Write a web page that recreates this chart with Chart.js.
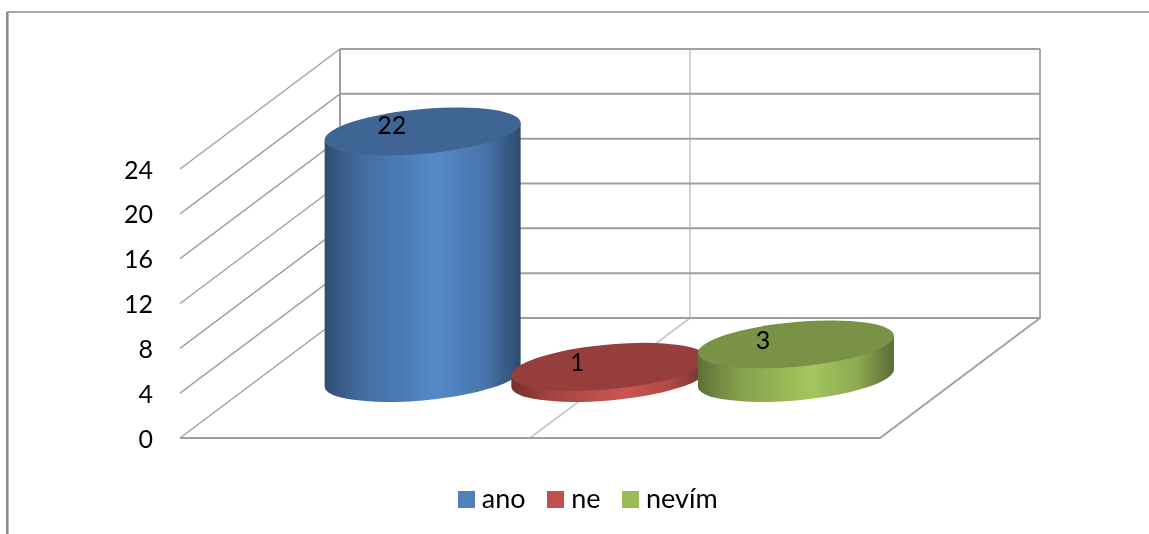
<!DOCTYPE html>
<html lang="cs">

<head>
    <meta charset="UTF-8">
    <title>Graf</title>
    <script src="https://cdn.jsdelivr.net/npm/chart.js"></script>
    <style>
        body { margin: 0; background: #fff; }
        canvas { display: block; }
    </style>
</head>

<body>
    <canvas id="myChart" width="1149" height="534"></canvas>
</body>

</html>

<script>
    // data
    const categories = ['']
    const seriesNames = ['ano', 'ne', 'nevím']
    const seriesValues = [22, 1, 3]
    const tickStep = 4
    const axisMax = 24

    const colors = [[79, 129, 189], [192, 80, 77], [155, 187, 89]]
    const labelOffsets = [[-31, -5], [-32, -4], [-33, -3]]

    const depthX = 160
    const depthY = 120
    const FONT = 'Lato'

    function shade(c, f) {
        return 'rgb(' + c.map(v => Math.min(255, Math.round(v * f))).join(',') + ')'
    }

    // legend square as a small canvas, so the gap to the text can be narrow
    function swatch(c) {
        const s = document.createElement('canvas')
        s.width = 17
        s.height = 17
        const g = s.getContext('2d')
        g.fillStyle = shade(c, 1)
        g.fillRect(0, 0, 17, 17)
        return s
    }

    // draws each bar as a slanted cylinder standing in the middle of the floor
    class CylinderController extends Chart.BarController {
        draw() {
            // chart.js walks the datasets backwards, here the first one must be at the back
            if (this.index !== 0) return
            seriesNames.forEach((n, i) => this.chart.getDatasetMeta(i).controller.drawCylinder())
        }

        drawCylinder() {
            const ctx = this.chart.ctx
            const i = this.index
            const c = colors[i]
            const bar = this.getMeta().data[0]
            const rx = bar.width / 2 * 1.05
            const ry = 22.4
            const slant = 8.5 / 98
            const cx = bar.x + depthX / 2 - 0.7
            const baseY = bar.base - depthY / 2
            const topY = bar.y - depthY / 2

            const grad = ctx.createLinearGradient(cx - rx, 0, cx + rx, 0)
            grad.addColorStop(0, shade(c, 0.6))
            grad.addColorStop(0.2, shade(c, 0.85))
            grad.addColorStop(0.58, shade(c, 1.06))
            grad.addColorStop(0.82, shade(c, 0.9))
            grad.addColorStop(1, shade(c, 0.58))

            ctx.save()
            // body: bottom half of the base ellipse, closed up to the top ellipse
            ctx.fillStyle = grad
            ctx.beginPath()
            ctx.save()
            ctx.transform(1, -slant, 0, 1, cx, baseY)
            ctx.ellipse(0, 0, rx, ry, 0, 0, Math.PI)
            ctx.restore()
            ctx.lineTo(cx - rx, topY + slant * rx)
            ctx.lineTo(cx + rx, topY - slant * rx)
            ctx.closePath()
            ctx.fill()

            // top face
            ctx.fillStyle = shade(c, 0.78)
            ctx.beginPath()
            ctx.save()
            ctx.transform(1, -slant, 0, 1, cx, topY)
            ctx.ellipse(0, 0, rx, ry, 0, 0, Math.PI * 2)
            ctx.restore()
            ctx.fill()

            // value label
            ctx.fillStyle = '#000'
            ctx.font = '25px ' + FONT
            ctx.textAlign = 'center'
            ctx.textBaseline = 'middle'
            ctx.fillText(seriesValues[i], cx + labelOffsets[i][0], topY + labelOffsets[i][1])
            ctx.restore()
        }
    }
    CylinderController.id = 'cylinder'
    CylinderController.defaults = Chart.BarController.defaults
    CylinderController.overrides = Chart.BarController.overrides
    Chart.register(CylinderController)

    function line(ctx, pts, color, width) {
        ctx.strokeStyle = color
        ctx.lineWidth = width
        ctx.beginPath()
        pts.forEach((p, n) => n ? ctx.lineTo(p[0], p[1]) : ctx.moveTo(p[0], p[1]))
        ctx.stroke()
    }

    // outer frame, walls and floor
    const frame3d = {
        id: 'frame3d',
        beforeDatasetsDraw(chart) {
            const ctx = chart.ctx
            const a = chart.chartArea
            const y = chart.scales.y
            const x = chart.scales.x
            const grey = '#9f9f9f'
            const light = '#c6c6c6'
            const bx = a.left + depthX
            const rx = a.right + depthX

            ctx.save()
            line(ctx, [[7.3, chart.height], [7.3, 12]], '#8c8c8c', 2.6)
            line(ctx, [[7, 12], [chart.width, 12]], '#8c8c8c', 1.6)

            const midBack = x.getPixelForValue(0) + depthX
            line(ctx, [[midBack, y.top - depthY], [midBack, y.bottom - depthY], [x.getPixelForValue(0), y.bottom]], light, 1.6)

            y.ticks.forEach(t => {
                const py = y.getPixelForValue(t.value)
                line(ctx, [[a.left, py], [bx, py - depthY]], grey, 1.4)
                line(ctx, [[bx, py - depthY], [rx, py - depthY]], grey, 2)
            })
            line(ctx, [[bx, y.top - depthY], [bx, y.bottom - depthY]], grey, 2)
            line(ctx, [[rx, y.top - depthY], [rx, y.bottom - depthY], [a.right, y.bottom], [a.left, y.bottom]], grey, 1.8)
            ctx.restore()
        }
    }

    // the legend sits under the whole picture, not under the plot box
    const legendPlace = {
        id: 'legendPlace',
        afterLayout(chart) {
            const l = chart.legend
            l.left += 151
            l.right += 151
            l.top += 20
            l.bottom += 20
        }
    }

    new Chart(document.getElementById('myChart'), {
        data: {
            labels: categories,
            datasets: seriesNames.map((name, i) => ({
                type: 'cylinder',
                label: name,
                data: [seriesValues[i]],
                backgroundColor: shade(colors[i], 1),
                clip: false
            }))
        },
        plugins: [frame3d, legendPlace],
        options: {
            responsive: false,
            animation: false,
            layout: { padding: { top: 169, right: 269, bottom: 31, left: 0 } },
            datasets: { cylinder: { categoryPercentage: 0.8, barPercentage: 1 } },
            scales: {
                x: { display: false },
                y: {
                    min: 0,
                    max: axisMax,
                    grid: { display: false },
                    border: { display: false },
                    afterFit(scale) { scale.width = 180 },
                    ticks: {
                        stepSize: tickStep,
                        padding: 19,
                        labelOffset: 1.5,
                        color: '#000',
                        font: { family: FONT, size: 25 }
                    }
                }
            },
            plugins: {
                tooltip: { enabled: false },
                legend: {
                    position: 'bottom',
                    labels: {
                        usePointStyle: true,
                        pointStyleWidth: 4,
                        boxHeight: 17,
                        padding: 28,
                        color: '#000',
                        font: { family: FONT, size: 27 },
                        generateLabels(chart) {
                            return Chart.defaults.plugins.legend.labels.generateLabels(chart)
                                .map((item, i) => ({ ...item, pointStyle: swatch(colors[i]) }))
                        }
                    }
                }
            }
        }
    })
</script>
